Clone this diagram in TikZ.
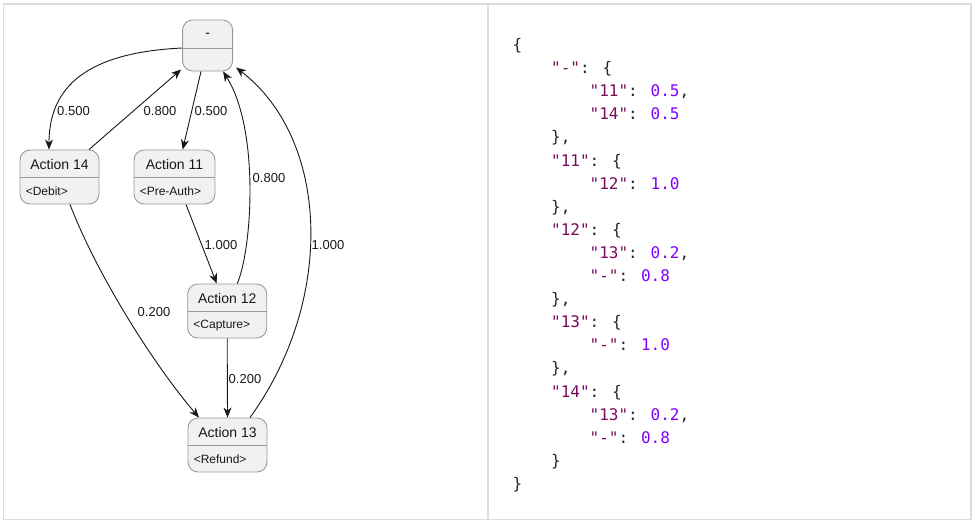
\documentclass[tikz,border=0pt]{standalone}
\usepackage{fontspec}
\usetikzlibrary{arrows.meta,calc}
\newfontfamily\lsans{Liberation Sans}
\newfontfamily\dmono{DejaVu Sans Mono}
\definecolor{framecol}{HTML}{DCDCDC}
\definecolor{boxgray}{HTML}{9A9A9A}
\definecolor{boxfill}{HTML}{F1F1F1}
\definecolor{linecol}{HTML}{181818}
\definecolor{jkeycol}{HTML}{7A0A5E}
\definecolor{jnumcol}{HTML}{7F00FF}
\definecolor{jpunct}{HTML}{262626}
\newcommand\jkey[1]{\textcolor{jkeycol}{"#1"}}
\newcommand\jnum[1]{\textcolor{jnumcol}{#1}}
\tikzset{
  frame/.style={draw=framecol, line width=1.2pt},
  statebox/.style={draw=boxgray, fill=boxfill, rounded corners=10pt, line width=0.9pt, inner sep=0pt, minimum height=54pt},
  divider/.style={draw=boxgray, line width=0.9pt},
  titletext/.style={font=\lsans\fontsize{14pt}{16pt}\selectfont, text=linecol, inner sep=0pt},
  stereotext/.style={font=\lsans\fontsize{12pt}{14pt}\selectfont, text=linecol, inner sep=0pt, anchor=west},
  lbl/.style={font=\lsans\fontsize{13pt}{15pt}\selectfont, text=linecol, inner sep=0pt},
  edge/.style={draw=linecol, line width=0.9pt, -{Stealth[length=10pt,width=8pt,inset=3pt]}},
  jline/.style={font=\dmono\fontsize{16pt}{18pt}\selectfont, text=jpunct, inner sep=0pt, anchor=base west}
}
\begin{document}
\begin{tikzpicture}[x=1pt,y=-1pt]
\useasboundingbox (0,0) rectangle (975,523);
\draw[frame] (3.5,4) rectangle (971,519.5);
\draw[frame] (488,4) -- (488,519.5);

% state boxes
\node[statebox, minimum width=50pt, minimum height=51pt] (top) at (207.6,45.5) {};
\draw[divider] ($(top.north west)+(0,29)$) -- ($(top.north east)+(0,29)$);
\node[titletext] (topt) at ($(top.north)+(0,16)$) {-};

\node[statebox, minimum width=79pt] (a14) at (59.5,177) {};
\draw[divider] ($(a14.north west)+(0,28)$) -- ($(a14.north east)+(0,28)$);
\node[titletext] (a14t) at ($(a14.north)+(0,14.5)$) {Action 14};
\node[stereotext] (a14s) at ($(a14.north west)+(6,42)$) {<Debit>};

\node[statebox, minimum width=81pt] (a11) at (174.5,177) {};
\draw[divider] ($(a11.north west)+(0,28)$) -- ($(a11.north east)+(0,28)$);
\node[titletext] (a11t) at ($(a11.north)+(0,14.5)$) {Action 11};
\node[stereotext] (a11s) at ($(a11.north west)+(6,42)$) {<Pre-Auth>};

\node[statebox, minimum width=79pt] (a12) at (227.2,311) {};
\draw[divider] ($(a12.north west)+(0,28)$) -- ($(a12.north east)+(0,28)$);
\node[titletext] (a12t) at ($(a12.north)+(0,14.5)$) {Action 12};
\node[stereotext] (a12s) at ($(a12.north west)+(6,42)$) {<Capture>};

\node[statebox, minimum width=79pt] (a13) at (227.5,445) {};
\draw[divider] ($(a13.north west)+(0,28)$) -- ($(a13.north east)+(0,28)$);
\node[titletext] (a13t) at ($(a13.north)+(0,14.5)$) {Action 13};
\node[stereotext] (a13s) at ($(a13.north west)+(6,42)$) {<Refund>};

% edges
\draw[edge] ($(top.west)+(0,2.5)$) .. controls (100,52) and (49,78) .. ($(a14.north)+(-10.5,0)$);
\draw[edge] ($(a14.north)+(29.5,0)$) -- ($(top.south west)+(-1,-2)$);
\draw[edge] ($(top.south)+(-6.6,0)$) -- ($(a11.north)+(8.2,0)$);
\draw[edge] ($(a11.south)+(11.5,0)$) -- ($(a12.north)+(-10.5,0)$);
\draw[edge] ($(a12.north)+(10,0)$) .. controls (252,250) and (260,130) .. ($(top.south)+(15.5,0)$);
\draw[edge] ($(a13.north)+(22.5,0)$) .. controls (335,300) and (330,140) .. ($(top.south east)+(3,-4)$);
\draw[edge] ($(a14.south)+(10.5,0)$) .. controls (95,270) and (150,360) .. ($(a13.north)+(-28.5,0)$);
\draw[edge] (a12.south) -- (a13.north);

% edge labels
\node[lbl] (l1) at (73.5,111.5) {0.500};
\node[lbl] (l2) at (160,111.5) {0.800};
\node[lbl] (l3) at (211,111.5) {0.500};
\node[lbl] (l4) at (221,245) {1.000};
\node[lbl] (l5) at (269,178) {0.800};
\node[lbl] (l6) at (328,245) {1.000};
\node[lbl] (l7) at (154,312) {0.200};
\node[lbl] (l8) at (245,379) {0.200};

% JSON
\node[jline] (j0)  at (512.5,50.5) {\{};
\node[jline] (j1)  at (551,73.6) {\jkey{-}: \{};
\node[jline] (j2)  at (589.5,96.7) {\jkey{11}: \jnum{0.5},};
\node[jline] (j3)  at (589.5,119.8) {\jkey{14}: \jnum{0.5}};
\node[jline] (j4)  at (551,142.9) {\},};
\node[jline] (j5)  at (551,166.0) {\jkey{11}: \{};
\node[jline] (j6)  at (589.5,189.1) {\jkey{12}: \jnum{1.0}};
\node[jline] (j7)  at (551,212.2) {\},};
\node[jline] (j8)  at (551,235.3) {\jkey{12}: \{};
\node[jline] (j9)  at (589.5,258.4) {\jkey{13}: \jnum{0.2},};
\node[jline] (j10) at (589.5,281.5) {\jkey{-}: \jnum{0.8}};
\node[jline] (j11) at (551,304.6) {\},};
\node[jline] (j12) at (551,327.7) {\jkey{13}: \{};
\node[jline] (j13) at (589.5,350.8) {\jkey{-}: \jnum{1.0}};
\node[jline] (j14) at (551,373.9) {\},};
\node[jline] (j15) at (551,397.0) {\jkey{14}: \{};
\node[jline] (j16) at (589.5,420.1) {\jkey{13}: \jnum{0.2},};
\node[jline] (j17) at (589.5,443.2) {\jkey{-}: \jnum{0.8}};
\node[jline] (j18) at (551,466.3) {\}};
\node[jline] (j19) at (512.5,489.4) {\}};
\end{tikzpicture}
\end{document}
